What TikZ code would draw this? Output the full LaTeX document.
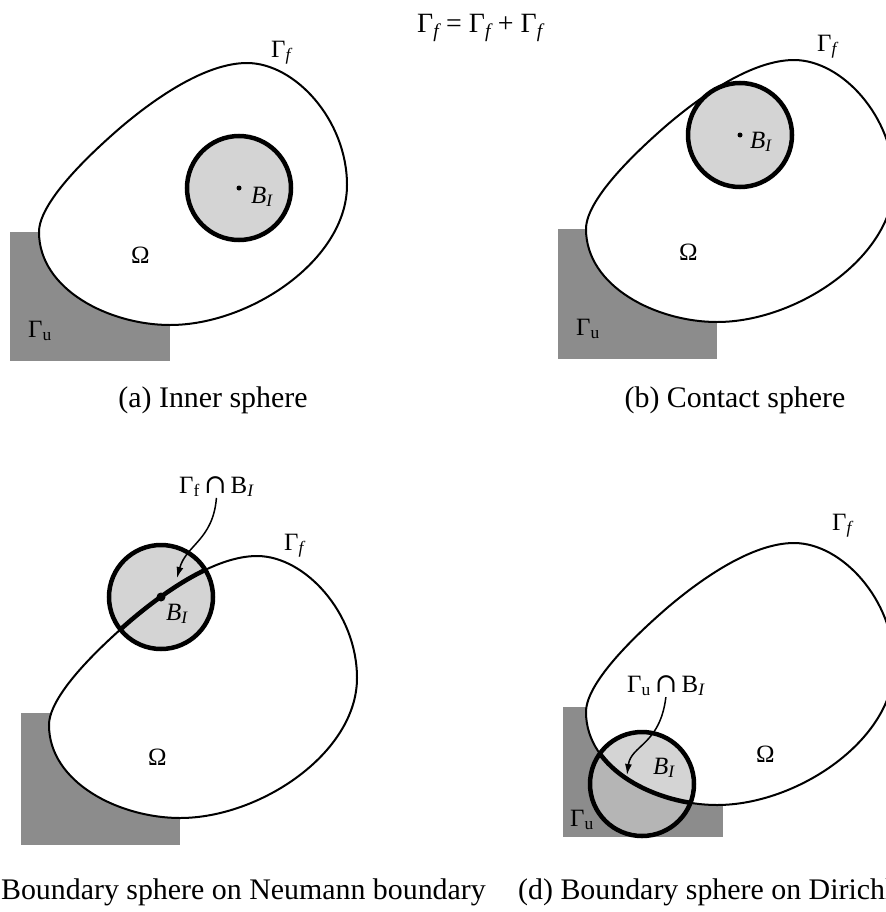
\documentclass[tikz,border=0pt]{standalone}
\usepackage{fontspec}
\setmainfont{Liberation Serif}
\newfontfamily\capfont{DejaVu Serif}
\usetikzlibrary{arrows.meta}

\definecolor{wallgray}{gray}{0.55}
\definecolor{ballgray}{gray}{0.83}
\definecolor{mixgray}{gray}{0.71}

\newcommand{\Gf}{Γ\textsubscript{\itshape f}}
\newcommand{\Gu}{Γ\textsubscript{u}}
\newcommand{\BI}{\textit{B}\textsubscript{\itshape I}}
\newcommand{\capsym}{\,{\capfont\fontsize{27}{27}\selectfont ∩}\,}
% the domain Omega, drawn for panel (a); the other panels shift it
\newcommand{\domain}[2]{#1[#2] (39,232) .. controls (39,200) and (97,148) .. (120,128)
  .. controls (154,99) and (205,63) .. (247,63)
  .. controls (295,63) and (347,120) .. (347,185)
  .. controls (347,260) and (250,325) .. (170,325)
  .. controls (110,325) and (39,290) .. cycle;}

\begin{document}
\begin{tikzpicture}[x=1bp,y=-1bp,
  outline/.style={draw=black,fill=white,line width=2bp},
  ball/.style={fill=ballgray,draw=black,line width=4.5bp},
  thickbnd/.style={draw=black,line width=4.5bp},
  lbl/.style={anchor=base west,inner sep=1bp,font=\fontsize{25}{30}\selectfont},
  caption/.style={inner sep=0pt,font=\fontsize{30}{36}\selectfont},
  pointer/.style={-{Latex[length=11bp,width=7bp]},line width=1.5bp}]
\useasboundingbox (0,0) rectangle (886,912);
\fill[white] (0,0) rectangle (886,912);
\clip (0,0) rectangle (886,912);

\node[lbl,font=\fontsize{28}{32}\selectfont] (sum) at (416,32) {\Gf\ = \Gf\ + \Gf};

% (a) inner sphere
\fill[wallgray] (10,232) rectangle (170,361);
\domain{\path}{outline}
\filldraw[ball] (239,188) circle[radius=52bp];
\fill (239,188) circle[radius=2.5bp];
\node[lbl] (gfa) at (270,57) {\Gf};
\node[lbl] (bia) at (250,203) {\BI};
\node[lbl] (oma) at (130,263) {Ω};
\node[lbl] (gua) at (27,337) {\Gu};
\node[caption,anchor=base] (capa) at (213,407) {(a) Inner sphere};

% (b) contact sphere
\fill[wallgray] (558,229) rectangle (717,359);
\domain{\path}{outline,shift={(547,-3)}}
\filldraw[ball] (740,135) circle[radius=52bp];
\fill (740,135) circle[radius=2.5bp];
\node[lbl] (gfb) at (816,51) {\Gf};
\node[lbl] (bib) at (749,148) {\BI};
\node[lbl] (omb) at (678,260) {Ω};
\node[lbl] (gub) at (575,335) {\Gu};
\node[caption,anchor=base] (capb) at (735,407) {(b) Contact sphere};

% (c) boundary sphere on Neumann boundary
\fill[wallgray] (21,713) rectangle (180,845);
\domain{\path}{outline,shift={(10,493)}}
\fill[ballgray] (161,597) circle[radius=52bp];
\begin{scope}
  \clip (161,597) circle[radius=52bp];
  \domain{\path}{thickbnd,shift={(10,493)}}
\end{scope}
\draw[line width=4.5bp] (161,597) circle[radius=52bp];
\fill (161,597) circle[radius=4.5bp];
\node[lbl] (capc) at (178,493) {Γ\textsubscript{f}\capsym B\textsubscript{\itshape I}};
\coordinate (tipc) at (177,578);
\draw[pointer] (capc.south) .. controls (213,540) and (186,545) .. (tipc);
\node[lbl] (gfc) at (283,550) {\Gf};
\node[lbl] (bic) at (165,620) {\BI};
\node[lbl] (omc) at (147,765) {Ω};
\node[caption,anchor=base east] (capcc) at (486,899) {(c) Boundary sphere on Neumann boundary};

% (d) boundary sphere on Dirichlet boundary
\fill[wallgray] (563,707) rectangle (723,837);
\domain{\path}{outline,shift={(547,480)}}
\fill[mixgray] (642,784) circle[radius=52bp];
\begin{scope}
  \domain{\clip}{shift={(547,480)}}
  \fill[ballgray] (642,784) circle[radius=52bp];
\end{scope}
\begin{scope}
  \clip (642,784) circle[radius=52bp];
  \domain{\path}{thickbnd,shift={(547,480)}}
\end{scope}
\draw[line width=4.5bp] (642,784) circle[radius=52bp];
\node[lbl] (capd) at (626,692) {Γ\textsubscript{u}\capsym B\textsubscript{\itshape I}};
\coordinate (tipd) at (627,775);
\draw[pointer] (capd.south) .. controls (660,745) and (631,745) .. (tipd);
\node[lbl] (gfd) at (831,530) {\Gf};
\node[lbl] (bid) at (652,774) {\BI};
\node[lbl] (omd) at (755,762) {Ω};
\node[lbl] (gud) at (569,826) {\Gu};
\node[caption,anchor=base west] (capdd) at (518,899) {(d) Boundary sphere on Dirichlet boundary};
\end{tikzpicture}
\end{document}
